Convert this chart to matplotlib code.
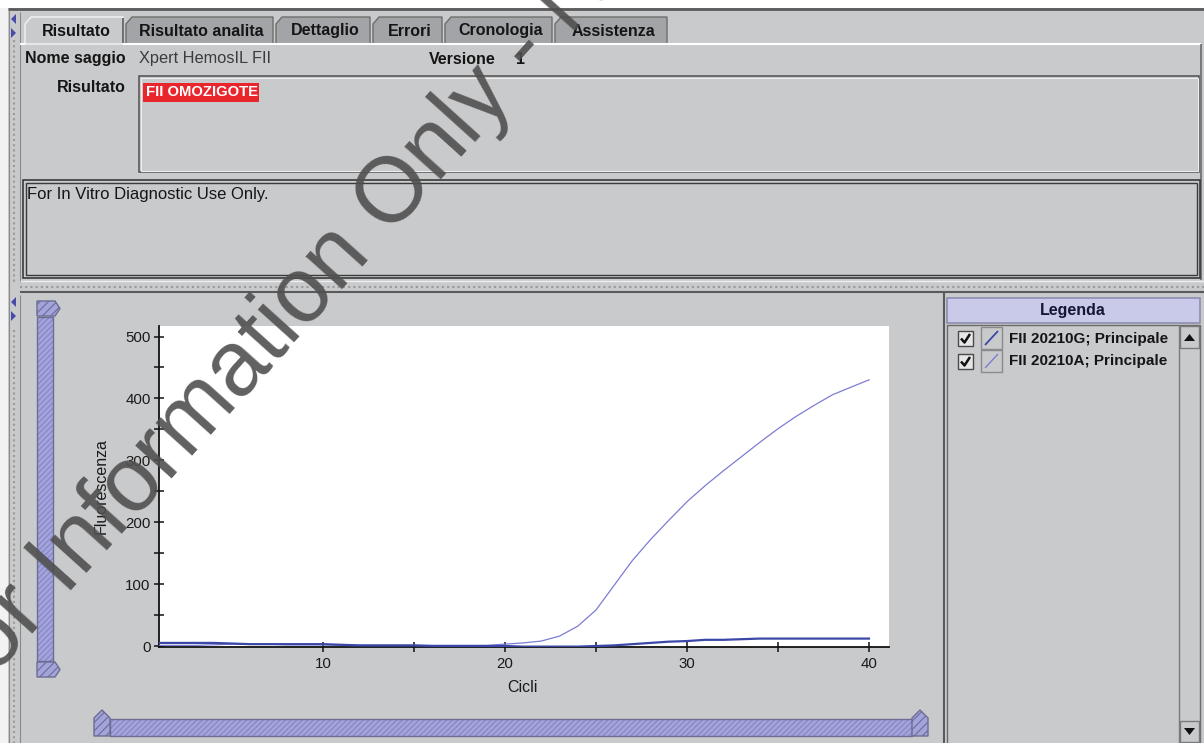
import matplotlib
matplotlib.use('Agg')
import matplotlib.pyplot as plt
from matplotlib.patches import Rectangle, Polygon
from matplotlib.ticker import MultipleLocator, FixedLocator

# ---------------- data ----------------
cycles = list(range(1, 41))
fii_20210g = [5, 5, 5, 5, 4, 3, 3, 3, 3, 3, 2, 1, 1, 1, 1, 0, 0, 0, 0, 0,
              -1, -1, -1, -1, 0, 1, 3, 5, 7, 8, 10, 10, 11, 12, 12, 12, 12, 12, 12, 12]
fii_20210a = [1, 1, 1, 2, 3, 3, 3, 2, 2, 2, 1, 1, 1, 1, 1, 1, 1, 1, 1, 3,
              5, 8, 16, 32, 58, 98, 138, 172, 203, 233, 259, 283, 306, 329, 351, 371, 389, 406, 418, 430]
series_names = ['FII 20210G; Principale', 'FII 20210A; Principale']
tab_labels = ['Risultato', 'Risultato analita', 'Dettaglio', 'Errori', 'Cronologia', 'Assistenza']
x_ticks = [10, 20, 30, 40]
x_minor = [15, 25, 35]
y_ticks = [0, 100, 200, 300, 400, 500]
assay_name = 'Xpert HemosIL FII'
version = '1'
result_text = 'FII OMOZIGOTE'
info_text = 'For In Vitro Diagnostic Use Only.'
watermark_pre = 'For '
watermark_main = 'Information Only - Not a Controlled Copy'

# ---------------- style ----------------
FONT = 'Liberation Sans'
BG = '#c9cacc'
TAB_OFF = '#a3a4a8'
C_G = '#3b48a8'
C_A = '#7c7cd4'
SL_FILL = '#a4a4dc'
SL_HATCH = '#8585c4'
SL_EDGE = '#6c6c94'
plt.rcParams['font.family'] = [FONT, 'DejaVu Sans']
plt.rcParams['hatch.linewidth'] = 0.8

W, H = 1204, 743
fig = plt.figure(figsize=(W / 100, H / 100), dpi=100)
fig.patch.set_facecolor(BG)

ui = fig.add_axes([0, 0, 1, 1])
ui.set_xlim(0, W)
ui.set_ylim(H, 0)
ui.axis('off')


def rect(x0, y0, x1, y1, fc='none', ec='none', lw=1.0, z=1, **kw):
    ui.add_patch(Rectangle((x0, y0), x1 - x0, y1 - y0, facecolor=fc, edgecolor=ec,
                           linewidth=lw, zorder=z, **kw))


def line(xs, ys, c, lw=1.0, z=2, **kw):
    ui.plot(xs, ys, color=c, linewidth=lw, zorder=z, solid_capstyle='butt', **kw)


# top white strip and frame line
rect(0, 0, W, 8, fc='white')
line([8, W], [8.5, 8.5], '#5a5a5a', lw=2)
# left white margin and dotted splitter strip
rect(0, 8, 8, H, fc='#f2f2f2')
line([9, 9], [10, H], '#8a8a8a', lw=0.8)
line([14, 14], [40, 282], '#9a9a9a', lw=1.5, linestyle=(0, (1, 1.5)))
line([14, 14], [330, H], '#9a9a9a', lw=1.5, linestyle=(0, (1, 1.5)))
line([20, 20], [12, 282], '#8a8a8a', lw=0.8)
line([20, 20], [295, H], '#8a8a8a', lw=0.8)
for yy in (14, 297):
    ui.add_patch(Polygon([(16, yy), (16, yy + 10), (11, yy + 5)], closed=True, fc='#4a4aa8', ec='none', zorder=3))
    ui.add_patch(Polygon([(11, yy + 14), (11, yy + 24), (16, yy + 19)], closed=True, fc='#4a4aa8', ec='none', zorder=3))

# ---- tabs ----
tab_edges = [(25, 123), (126, 273), (276, 370), (373, 442), (445, 552), (555, 667)]
for i, ((x0, x1), lab) in enumerate(zip(tab_edges, tab_labels)):
    sel = i == 0
    poly = [(x0, 44), (x0, 24), (x0 + 6, 17), (x1, 17), (x1, 44)]
    ui.add_patch(Polygon(poly, closed=True, fc=BG if sel else TAB_OFF,
                         ec='#f4f4f4' if sel else '#6e6e6e', lw=1.0, zorder=2))
    if sel:
        line([x1, x1], [18, 43], '#5a5a5a', lw=1.2, z=3)
    ui.text((x0 + x1) / 2 + 2, 31, lab, fontsize=11.5, fontweight='bold', color='#151515',
            ha='center', va='center', zorder=4)
line([20, 25], [43.5, 43.5], 'white', lw=1.5)
line([123, 1201], [43.5, 43.5], 'white', lw=1.5)
line([1201, 1201], [44, 280], '#6a6a6a', lw=1.2)

# ---- header rows ----
ui.text(25, 59, 'Nome saggio', fontsize=11.5, fontweight='bold', color='#151515', ha='left', va='center')
ui.text(139, 59, assay_name, fontsize=11.8, color='#3c3c3c', ha='left', va='center')
ui.text(429, 59, 'Versione', fontsize=11.5, fontweight='bold', color='#151515', ha='left', va='center')
ui.text(516, 59, version, fontsize=11.5, fontweight='bold', color='#151515', ha='left', va='center')
ui.text(126, 87, 'Risultato', fontsize=11.5, fontweight='bold', color='#151515', ha='right', va='center')

# result box
rect(139, 76, 1199, 172, ec='#5a5a5a', lw=1.2, z=2)
rect(140.5, 77.5, 1197.5, 170.5, ec='#ededed', lw=0.8, z=2)
rect(143, 83, 259, 102, fc='#e8262c', z=3)
ui.text(146, 92.5, result_text, fontsize=10.7, fontweight='bold', color='white', ha='left', va='center', zorder=4)

# info box (double border)
rect(23, 180, 1200, 278, ec='#3a3a3a', lw=1.2, z=2)
rect(26, 183, 1197, 275, ec='#3a3a3a', lw=1.0, z=2)
ui.text(27, 194, info_text, fontsize=12, color='#151515', ha='left', va='center', zorder=4)

# horizontal splitter
line([20, W], [281, 281], '#eeeeee', lw=1)
line([20, W], [286.5, 286.5], '#9a9a9a', lw=1.5, linestyle=(0, (1, 1.5)))
line([20, W], [292, 292], '#5a5a5a', lw=1.5)

# ---- vertical range slider ----
rect(37, 317, 53, 661, fc=SL_FILL, ec=SL_HATCH, lw=0, z=2, hatch='//////')
rect(37, 317, 53, 661, ec=SL_EDGE, lw=1.0, z=3)
for (ya, yb) in ((301, 316), (662, 677)):
    ui.add_patch(Polygon([(37, ya), (55, ya), (60, (ya + yb) / 2), (55, yb), (37, yb)], closed=True,
                         fc=SL_FILL, ec=SL_EDGE, lw=1.0, hatch='////', zorder=3))

# ---- horizontal range slider ----
rect(110, 719, 912, 736, fc=SL_FILL, ec=SL_HATCH, lw=0, z=2, hatch='//////')
rect(110, 719, 912, 736, ec=SL_EDGE, lw=1.0, z=3)
for (xa, xb) in ((94, 110), (912, 928)):
    ui.add_patch(Polygon([(xa, 736), (xa, 718), ((xa + xb) / 2, 710), (xb, 718), (xb, 736)], closed=True,
                         fc=SL_FILL, ec=SL_EDGE, lw=1.0, hatch='////', zorder=3))

# ---- legend panel ----
line([944, 944], [293, H], '#5a5a5a', lw=1.5)
rect(947, 298, 1200, 323, fc='#c9c9ea', ec='#8d8db0', lw=1.2, z=2)
ui.text(1073, 311, 'Legenda', fontsize=11.5, fontweight='bold', color='#151535', ha='center', va='center', zorder=4)
rect(947, 325, 1200, H + 2, ec='#6a6a6a', lw=1.0, z=2)
# scrollbar
line([1179, 1179], [325, H], '#7a7a7a', lw=1.0)
rect(1180, 326, 1199, 348, fc=BG, ec='#7a7a7a', lw=1.0, z=3)
ui.add_patch(Polygon([(1184, 341), (1195, 341), (1189.5, 334)], closed=True, fc='#111111', ec='none', zorder=4))
rect(1180, 721, 1199, 742, fc=BG, ec='#7a7a7a', lw=1.0, z=3)
ui.add_patch(Polygon([(1184, 728), (1195, 728), (1189.5, 735)], closed=True, fc='#111111', ec='none', zorder=4))

for k, (name, col) in enumerate(zip(series_names, [C_G, C_A])):
    yc = 338 + k * 23
    rect(958, yc - 7, 973, yc + 8, fc='#e6e6e6', ec='#4a4a4a', lw=1.0, z=3)
    line([961, 964.5, 970], [yc + 0.5, yc + 4.5, yc - 4], '#111111', lw=1.8, z=4)
    rect(981, yc - 11, 1002, yc + 11, ec='#8a8a8a', lw=1.0, z=3)
    line([985, 998], [yc + 7, yc - 7], col, lw=1.3 if k == 0 else 1.0, z=4)
    ui.text(1009, yc + 0.5, name, fontsize=11, fontweight='bold', color='#151515', ha='left', va='center', zorder=4)

# ---------------- chart ----------------
ax = fig.add_axes([159 / W, (H - 647) / H, (889 - 159) / W, (647 - 326) / H])
ax.set_facecolor('white')
ax.plot(cycles, fii_20210a, color=C_A, linewidth=0.9, zorder=3)
ax.plot(cycles, fii_20210g, color=C_G, linewidth=1.6, zorder=4)
ax.set_xlim(1.0, 41.1)
ax.set_ylim(-1.6, 517)
for s in ('top', 'right'):
    ax.spines[s].set_visible(False)
for s in ('left', 'bottom'):
    ax.spines[s].set_color('#111111')
    ax.spines[s].set_linewidth(1.3)
ax.set_xticks(x_ticks)
ax.set_yticks(y_ticks)
ax.xaxis.set_minor_locator(FixedLocator(x_minor))
ax.yaxis.set_minor_locator(MultipleLocator(50))
ax.tick_params(which='both', direction='inout', length=7, width=1.1, color='#111111')
ax.tick_params(axis='both', labelsize=10.8, labelcolor='#1a1a1a')
ax.tick_params(axis='x', pad=4)
ax.tick_params(axis='y', pad=2.5)
ax.set_xlabel('Cicli', fontsize=11.5, color='#1a1a1a')
ax.xaxis.set_label_coords((522 - 159) / 730, (647 - 680) / 321)
ax.set_ylabel('Fluorescenza', fontsize=11.5, color='#1a1a1a')
ax.yaxis.set_label_coords((109 - 159) / 730, 0.5)

# ---------------- watermark ----------------
wm = fig.add_axes([0, 0, 1, 1], zorder=10)
wm.set_xlim(0, W)
wm.set_ylim(H, 0)
wm.axis('off')
wm.patch.set_alpha(0)
P = (66, 596)
ROT = 48
for s, ha in ((watermark_pre, 'right'), (watermark_main, 'left')):
    wm.text(P[0], P[1], s, fontsize=66, color='#4f4f4f', alpha=0.9, rotation=ROT,
            rotation_mode='anchor', ha=ha, va='baseline', family=FONT)

fig.savefig('out.png', dpi=100, facecolor=fig.get_facecolor())
